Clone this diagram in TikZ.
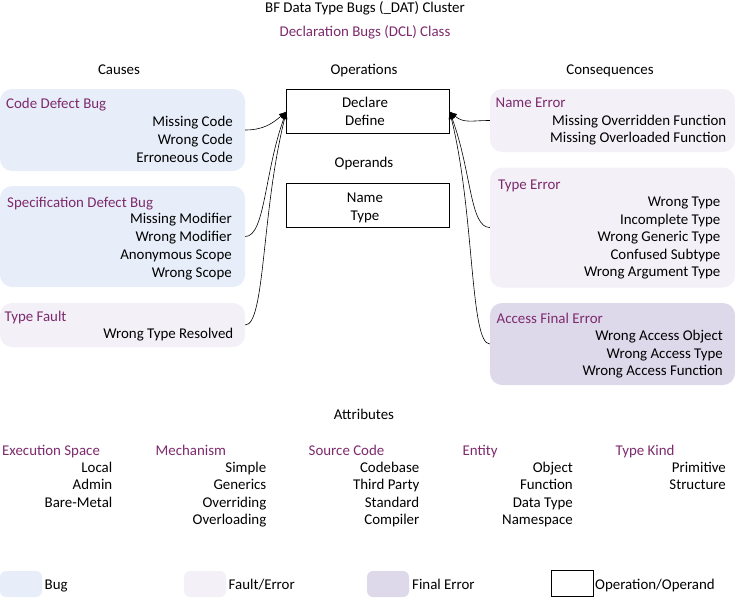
\documentclass[tikz,border=0pt]{standalone}
\usepackage{fontspec}
\setmainfont{Carlito}
\usetikzlibrary{arrows.meta}
\definecolor{bugfill}{RGB}{231,238,250}
\definecolor{faultfill}{RGB}{243,240,248}
\definecolor{finalfill}{RGB}{221,217,235}
\definecolor{ttl}{RGB}{125,42,108}
\tikzset{
  every node/.style={font=\fontsize{14.9}{17.8}\selectfont, text height=13.5pt, text depth=3pt, inner sep=0pt},
  bugbox/.style={fill=bugfill, rounded corners=12pt, draw=none},
  faultbox/.style={fill=faultfill, rounded corners=12pt, draw=none},
  finalbox/.style={fill=finalfill, rounded corners=12pt, draw=none},
  opbox/.style={draw=black, fill=white, line width=0.7pt},
  ttltext/.style={text=ttl, anchor=west},
  itemtext/.style={anchor=east},
  ctext/.style={anchor=center},
  conn/.style={line width=0.6pt, -{Latex[length=7.5pt,width=6pt]}},
}
\begin{document}
\begin{tikzpicture}[x=1pt,y=-1pt]
\useasboundingbox (0,0) rectangle (735,597);
% headers
\node[ctext] (t1) at (365,7) {BF Data Type Bugs (\_DAT) Cluster};
\node[ctext, text=ttl] (t2) at (365,31) {Declaration Bugs (DCL) Class};
\node[ctext] (hc) at (119,69) {Causes};
\node[ctext] (ho) at (364,69) {Operations};
\node[ctext] (hq) at (610,69) {Consequences};
% cause boxes
\node[bugbox, minimum width=245pt, minimum height=82pt] (cdb) at (122.5,130) {};
\node[ttltext] at (6,103) {Code Defect Bug};
\node[itemtext] at (233,121) {Missing Code};
\node[itemtext] at (233,139) {Wrong Code};
\node[itemtext] at (233,157) {Erroneous Code};
\node[bugbox, minimum width=245pt, minimum height=101pt] (sdb) at (122.5,236.5) {};
\node[ttltext] at (7,202) {Specification Defect Bug};
\node[itemtext] at (232,218) {Missing Modifier};
\node[itemtext] at (232,236) {Wrong Modifier};
\node[itemtext] at (232,254) {Anonymous Scope};
\node[itemtext] at (232,272) {Wrong Scope};
\node[faultbox, minimum width=245pt, minimum height=44pt] (tf) at (122.5,325) {};
\node[ttltext] at (4.5,316) {Type Fault};
\node[itemtext] at (233.5,333) {Wrong Type Resolved};
% operations / operands
\node[opbox, minimum width=162.5pt, minimum height=44pt] (ops) at (368,111.5) {};
\node[ctext] at (365,102.5) {Declare};
\node[ctext] at (365,120) {Define};
\node[ctext] (hd) at (364,162.5) {Operands};
\node[opbox, minimum width=162.5pt, minimum height=44pt] (opd) at (368,205.5) {};
\node[ctext] at (365,197.5) {Name};
\node[ctext] at (365,215) {Type};
% consequences
\node[faultbox, minimum width=245pt, minimum height=63pt] (ne) at (612.5,120.5) {};
\node[ttltext] at (495.5,102.5) {Name Error};
\node[itemtext] at (726.5,120) {Missing Overridden Function};
\node[itemtext] at (726.5,137.5) {Missing Overloaded Function};
\node[faultbox, minimum width=245pt, minimum height=120pt] (te) at (612.5,227.5) {};
\node[ttltext] at (498,184) {Type Error};
\node[itemtext] at (720.5,201.5) {Wrong Type};
\node[itemtext] at (720.5,219) {Incomplete Type};
\node[itemtext] at (720.5,236.5) {Wrong Generic Type};
\node[itemtext] at (720.5,254) {Confused Subtype};
\node[itemtext] at (720.5,271.5) {Wrong Argument Type};
\node[finalbox, minimum width=245pt, minimum height=82pt] (afe) at (612.5,344) {};
\node[ttltext] at (496.5,318) {Access Final Error};
\node[itemtext] at (723,335.5) {Wrong Access Object};
\node[itemtext] at (723,353) {Wrong Access Type};
\node[itemtext] at (723,370.5) {Wrong Access Function};
% connectors
\draw[conn] (cdb.east) .. controls +(18,0) and +(-14,12) .. (ops.west);
\draw[conn] (sdb.east) .. controls +(20,0) and +(-22,60) .. (ops.west);
\draw[conn] (tf.east) .. controls +(20,0) and +(-25,100) .. (ops.west);
\draw[conn] (ne.west) .. controls +(-18,0) and +(14,12) .. (ops.east);
\draw[conn] (te.west) .. controls +(-20,0) and +(22,60) .. (ops.east);
\draw[conn] (afe.west) .. controls +(-20,0) and +(25,100) .. (ops.east);
% attributes
\node[ctext] (ha) at (364,414) {Attributes};
\node[ttltext] at (2,450) {Execution Space};
\node[itemtext] at (112.5,467) {Local};
\node[itemtext] at (112.5,484.5) {Admin};
\node[itemtext] at (112.5,502) {Bare-Metal};
\node[ttltext] at (155.5,450) {Mechanism};
\node[itemtext] at (266.5,467) {Simple};
\node[itemtext] at (266.5,484.5) {Generics};
\node[itemtext] at (266.5,502) {Overriding};
\node[itemtext] at (266.5,519.5) {Overloading};
\node[ttltext] at (308.5,450) {Source Code};
\node[itemtext] at (419.5,467) {Codebase};
\node[itemtext] at (419.5,484.5) {Third Party};
\node[itemtext] at (419.5,502) {Standard};
\node[itemtext] at (419.5,519.5) {Compiler};
\node[ttltext] at (462.5,450) {Entity};
\node[itemtext] at (573,467) {Object};
\node[itemtext] at (573,484.5) {Function};
\node[itemtext] at (573,502) {Data Type};
\node[itemtext] at (573,519.5) {Namespace};
\node[ttltext] at (615.5,450) {Type Kind};
\node[itemtext] at (726,467) {Primitive};
\node[itemtext] at (726,484.5) {Structure};
% legend
\node[bugbox, rounded corners=6pt, minimum width=42pt, minimum height=26pt] (lb) at (21,584) {};
\node[anchor=west] at (44.5,584) {Bug};
\node[faultbox, rounded corners=6pt, minimum width=42pt, minimum height=26pt] (lf) at (205,584) {};
\node[anchor=west] at (228.5,584) {Fault/Error};
\node[finalbox, rounded corners=6pt, minimum width=42pt, minimum height=26pt] (lfe) at (388,584) {};
\node[anchor=west] at (412,584) {Final Error};
\node[opbox, minimum width=42pt, minimum height=26pt] (lo) at (572,583.5) {};
\node[anchor=west] at (595,584) {Operation/Operand};
\end{tikzpicture}
\end{document}
